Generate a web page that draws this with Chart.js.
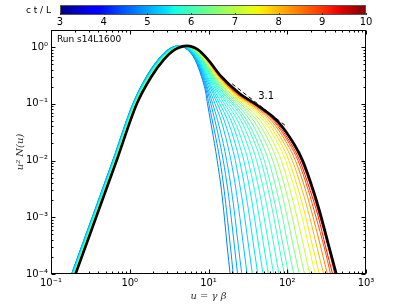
<!DOCTYPE html>
<html><head><meta charset="utf-8">
<script src="https://cdn.jsdelivr.net/npm/chart.js@4.4.1/dist/chart.umd.min.js"></script>
<style>
html,body{margin:0;padding:0;background:#fff;}
#wrap{position:relative;width:407px;height:305px;}
#main{position:absolute;left:0;top:0;}
#cbar{position:absolute;left:0;top:0;}
</style></head>
<body><div id="wrap"><canvas id="main" width="407" height="305"></canvas><canvas id="cbar" width="407" height="30"></canvas></div>
<script>
// ---- data ----
// shared u^2 N(u) levels along each curve (rising side, peak, falling side)
const yLevels = [1e-4, 1e-2, 0.1, 0.3, 0.6, 0.9, 1.05, 0.9, 0.6, 0.3, 0.15, 0.1, 0.05, 0.02, 0.01, 3e-3, 1e-3, 3e-4, 1e-4];
// snapshot times c t / L
const times = [4.75, 4.9, 5.0, 5.1, 5.2, 5.3, 5.4, 5.5, 5.6, 5.7, 5.8, 5.9, 6.0, 6.2, 6.5, 6.8, 7.1, 7.4, 7.7, 8.0, 8.4, 8.8, 9.2, 9.6, 10];
// u = gamma*beta where each curve crosses the levels above
const u_t4_75 = [0.182,0.607,1.09,1.62,2.28,3.05,4.08,5.40,6.73,8.15,9.29,9.71,10.6,11.9,12.9,14.6,15.9,17.3,18.8];
const u_t4_9  = [0.183,0.609,1.10,1.63,2.29,3.07,4.12,5.45,6.81,8.28,9.57,10.1,11.2,12.8,14.0,15.8,17.3,19.0,20.6];
const u_t5_0  = [0.184,0.612,1.10,1.64,2.31,3.10,4.17,5.51,6.92,8.48,9.93,10.7,12.1,14.0,15.4,17.6,19.4,21.4,23.4];
const u_t5_1  = [0.185,0.615,1.11,1.65,2.32,3.12,4.22,5.58,7.02,8.67,10.3,11.3,13.1,15.4,17.0,19.6,21.7,24.0,26.5];
const u_t5_2  = [0.186,0.619,1.11,1.66,2.35,3.16,4.28,5.66,7.16,8.93,10.8,12.1,14.5,17.3,19.3,22.4,25.0,27.9,30.9];
const u_t5_3  = [0.187,0.623,1.12,1.68,2.37,3.19,4.34,5.75,7.29,9.18,11.4,13.0,15.9,19.4,21.9,25.6,28.8,32.4,36.1];
const u_t5_4  = [0.188,0.627,1.13,1.69,2.39,3.23,4.40,5.85,7.43,9.45,11.9,13.9,17.6,21.8,24.8,29.3,33.2,37.6,42.2];
const u_t5_5  = [0.189,0.630,1.13,1.70,2.41,3.26,4.47,5.94,7.58,9.72,12.5,14.9,19.4,24.4,28.1,33.6,38.3,43.6,49.3];
const u_t5_6  = [0.190,0.634,1.14,1.71,2.43,3.30,4.53,6.03,7.72,10.0,13.2,16.0,21.3,27.4,31.8,38.4,44.1,50.6,57.5];
const u_t5_7  = [0.191,0.638,1.15,1.73,2.45,3.33,4.59,6.12,7.87,10.3,13.8,17.2,23.5,30.8,36.0,43.9,50.8,58.8,67.2];
const u_t5_8  = [0.193,0.642,1.15,1.74,2.48,3.37,4.65,6.22,8.03,10.6,14.5,18.4,26.0,34.6,40.8,50.2,58.6,68.2,78.5];
const u_t5_9  = [0.194,0.645,1.16,1.75,2.50,3.40,4.71,6.32,8.18,10.9,15.2,19.8,28.6,38.8,46.2,57.4,67.5,79.1,91.7];
const u_t6_0  = [0.195,0.648,1.17,1.76,2.51,3.43,4.76,6.39,8.31,11.2,15.8,20.9,30.9,42.6,51.1,64.0,75.6,89.2,104];
const u_t6_2  = [0.196,0.652,1.17,1.78,2.54,3.46,4.83,6.49,8.47,11.5,16.6,22.4,34.1,47.8,57.9,73.1,87.2,103,121];
const u_t6_5  = [0.197,0.656,1.18,1.79,2.56,3.50,4.89,6.59,8.63,11.8,17.4,24.0,37.6,53.7,65.5,83.7,100,120,142];
const u_t6_8  = [0.198,0.660,1.19,1.80,2.58,3.53,4.95,6.70,8.80,12.2,18.3,25.7,41.5,60.3,74.3,95.7,116,139,166];
const u_t7_1  = [0.199,0.663,1.19,1.81,2.60,3.57,5.01,6.80,8.97,12.5,19.2,27.6,45.7,67.7,84.1,109,133,162,193];
const u_t7_4  = [0.200,0.667,1.20,1.83,2.62,3.60,5.07,6.91,9.14,12.9,20.1,29.6,50.4,76.0,95.3,125,154,188,226];
const u_t7_7  = [0.201,0.670,1.21,1.84,2.64,3.63,5.12,6.99,9.28,13.2,20.9,31.3,54.5,83.4,105,139,172,211,256];
const u_t8_0  = [0.202,0.673,1.21,1.85,2.66,3.66,5.17,7.08,9.42,13.5,21.8,33.1,58.9,91.5,116,155,193,238,290];
const u_t8_4  = [0.203,0.676,1.22,1.86,2.67,3.68,5.22,7.15,9.55,13.7,22.5,34.7,63.1,99.2,127,171,213,266,323];
const u_t8_8  = [0.204,0.678,1.22,1.86,2.69,3.70,5.25,7.22,9.66,14.0,23.2,36.2,66.9,106,137,185,232,294,355];
const u_t9_2  = [0.204,0.679,1.22,1.87,2.70,3.72,5.28,7.27,9.73,14.1,23.6,37.2,69.6,111,144,195,249,307,377];
const u_t9_6  = [0.205,0.681,1.23,1.87,2.70,3.73,5.30,7.31,9.81,14.3,24.1,38.3,72.3,117,151,206,260,330,402];
const u_t10   = [0.205,0.682,1.23,1.88,2.71,3.74,5.32,7.35,9.86,14.6,25.0,39.1,74.6,121,157,214,271,340,421];
const curves = [u_t4_75,u_t4_9,u_t5_0,u_t5_1,u_t5_2,u_t5_3,u_t5_4,u_t5_5,u_t5_6,u_t5_7,u_t5_8,u_t5_9,u_t6_0,
                u_t6_2,u_t6_5,u_t6_8,u_t7_1,u_t7_4,u_t7_7,u_t8_0,u_t8_4,u_t8_8,u_t9_2,u_t9_6,u_t10];
// reference power law (slope label 3.1)
const slopeU = [20, 100];
const slopeY = [0.225, 0.039];
const slopeLabel = '3.1';
// axes
const xTickValues = [0.1, 1, 10, 100, 1000];
const xTickLabels = ['10\u207B\u00B9', '10\u2070', '10\u00B9', '10\u00B2', '10\u00B3'];
const yTickValues = [1e-4, 1e-3, 1e-2, 1e-1, 1];
const yTickLabels = ['10\u207B\u2074', '10\u207B\u00B3', '10\u207B\u00B2', '10\u207B\u00B9', '10\u2070'];
const cbarMin = 3, cbarMax = 10;
const runLabel = 'Run s14L1600';

// ---- style helpers ----
function seg(v, pts){ for(let i=1;i<pts.length;i++){ if(v<=pts[i][0]){ const a=pts[i-1],b=pts[i]; return a[1]+(b[1]-a[1])*(v-a[0])/(b[0]-a[0]); } } return pts[pts.length-1][1]; }
function jet(v){
  v=Math.max(0,Math.min(1,v));
  const r=seg(v,[[0,0],[0.35,0],[0.66,1],[0.89,1],[1,0.5]]);
  const g=seg(v,[[0,0],[0.125,0],[0.375,1],[0.64,1],[0.91,0],[1,0]]);
  const b=seg(v,[[0,0.5],[0.11,1],[0.34,1],[0.65,0],[1,0]]);
  return `rgb(${Math.round(r*255)},${Math.round(g*255)},${Math.round(b*255)})`;
}
const N = curves.length;
const datasets = curves.map((us,k)=>({
  data: us.map((u,i)=>({x:u, y:yLevels[i]})),
  showLine:true, pointRadius:0, borderWidth: k===N-1?2.6:1,
  borderColor: k===N-1 ? '#000' : jet((times[k]-cbarMin)/(cbarMax-cbarMin)),
  cubicInterpolationMode:'monotone', order: N-k+1
}));
datasets.push({data: slopeU.map((u,i)=>({x:u,y:slopeY[i]})), showLine:true, pointRadius:0,
  borderColor:'#000', borderWidth:1, borderDash:[4,3], order:0});

const frameTicks = {
  id:'frameTicks',
  afterDatasetsDraw(chart){
    const {ctx, chartArea:a, scales:{x,y}} = chart;
    ctx.save();
    ctx.strokeStyle='#000'; ctx.lineWidth=1;
    const L=Math.round(a.left)+0.5, R=Math.round(a.right)-0.5, T=Math.round(a.top)+0.5, B=Math.round(a.bottom)-0.5;
    ctx.beginPath();
    for(let e=-1;e<=3;e++){ for(let k=1;k<=9;k++){ const v=k*Math.pow(10,e); if(v>1000.001) break;
      const p=Math.round(x.getPixelForValue(v))+0.5; const len=(k===1)?4:2;
      ctx.moveTo(p,B); ctx.lineTo(p,B-len); ctx.moveTo(p,T); ctx.lineTo(p,T+len); } }
    for(let e=-4;e<=0;e++){ for(let k=1;k<=9;k++){ const v=k*Math.pow(10,e); if(v>y.max) break;
      const p=Math.round(y.getPixelForValue(v))+0.5; const len=(k===1)?4:2;
      ctx.moveTo(L,p); ctx.lineTo(L+len,p); ctx.moveTo(R,p); ctx.lineTo(R-len,p); } }
    ctx.stroke();
    ctx.strokeRect(L,T,R-L,B-T);
    ctx.fillStyle='#000';
    ctx.font='9px "DejaVu Sans"'; ctx.textAlign='left'; ctx.textBaseline='middle';
    ctx.fillText(runLabel, a.left+6, a.top+10);
    ctx.font='10px "DejaVu Sans"'; ctx.textAlign='center';
    ctx.fillText(slopeLabel, x.getPixelForValue(54), y.getPixelForValue(0.137));
    ctx.restore();
  }
};

new Chart(document.getElementById('main'), {
  type:'scatter',
  data:{datasets},
  options:{
    responsive:false, animation:false, devicePixelRatio:1,
    layout:{padding:{left:0,right:41,top:30,bottom:0}},
    plugins:{legend:{display:false}, tooltip:{enabled:false}},
    scales:{
      x:{type:'logarithmic', min:0.1, max:1000, bounds:'data',
        grid:{display:false, drawTicks:false, tickLength:0}, border:{display:false},
        afterBuildTicks: ax=>{ ax.ticks = xTickValues.map(v=>({value:v})); },
        ticks:{callback:(v)=>xTickLabels[xTickValues.indexOf(v)], autoSkip:false, maxRotation:0, padding:3,
          color:'#000', font:{family:'DejaVu Sans', size:10}},
        title:{display:true, text:'u = \u03B3 \u03B2', color:'#333', padding:{top:0,bottom:3},
          font:{family:'DejaVu Serif', style:'italic', size:10}},
        afterFit: ax=>{ ax.height = 31; }
      },
      y:{type:'logarithmic', min:1e-4, max:2, bounds:'data',
        grid:{display:false, drawTicks:false, tickLength:0}, border:{display:false},
        afterBuildTicks: ax=>{ ax.ticks = yTickValues.map(v=>({value:v})); },
        ticks:{callback:(v)=>yTickLabels[yTickValues.indexOf(v)], autoSkip:false, padding:3,
          color:'#000', font:{family:'DejaVu Sans', size:10}},
        title:{display:true, text:'u\u00B2 N(u)', color:'#333', padding:{top:14,bottom:0},
          font:{family:'DejaVu Serif', style:'italic', size:10}},
        afterFit: ax=>{ ax.width = 51; }
      }
    }
  },
  plugins:[frameTicks]
});

// ---- colour bar ----
const cbarPlugin = {
  id:'cbarPlugin',
  beforeDatasetsDraw(chart){
    const {ctx, chartArea:a, scales:{x}} = chart;
    ctx.save();
    const g = ctx.createLinearGradient(a.left,0,a.right,0);
    for(let i=0;i<=40;i++){ g.addColorStop(i/40, jet(i/40)); }
    ctx.fillStyle=g; ctx.fillRect(a.left,a.top,a.right-a.left,a.bottom-a.top);
    ctx.strokeStyle='#555'; ctx.lineWidth=1;
    ctx.strokeRect(Math.round(a.left)+0.5, Math.round(a.top)+0.5, Math.round(a.right-a.left)-1, Math.round(a.bottom-a.top)-1);
    ctx.strokeStyle='#333'; ctx.beginPath();
    for(let v=cbarMin; v<=cbarMax; v++){ const p=Math.round(x.getPixelForValue(v))+0.5; ctx.moveTo(p,a.bottom); ctx.lineTo(p,a.bottom-2); }
    ctx.stroke();
    ctx.fillStyle='#000'; ctx.font='9px "DejaVu Sans"'; ctx.textAlign='right'; ctx.textBaseline='middle';
    ctx.fillText('c t / L', a.left-9, (a.top+a.bottom)/2+1);
    ctx.restore();
  }
};
new Chart(document.getElementById('cbar'), {
  type:'scatter',
  data:{datasets:[{data:[]}]},
  options:{
    responsive:false, animation:false, devicePixelRatio:1,
    layout:{padding:{left:60,right:41,top:5,bottom:0}},
    plugins:{legend:{display:false}, tooltip:{enabled:false}},
    scales:{
      x:{type:'linear', min:cbarMin, max:cbarMax, grid:{display:false, drawTicks:false, tickLength:0}, border:{display:false},
        ticks:{stepSize:1, padding:1, color:'#000', font:{family:'DejaVu Sans', size:10}},
        afterFit: ax=>{ ax.height = 15; }},
      y:{display:false, min:0, max:1}
    }
  },
  plugins:[cbarPlugin]
});
</script>
</body></html>
